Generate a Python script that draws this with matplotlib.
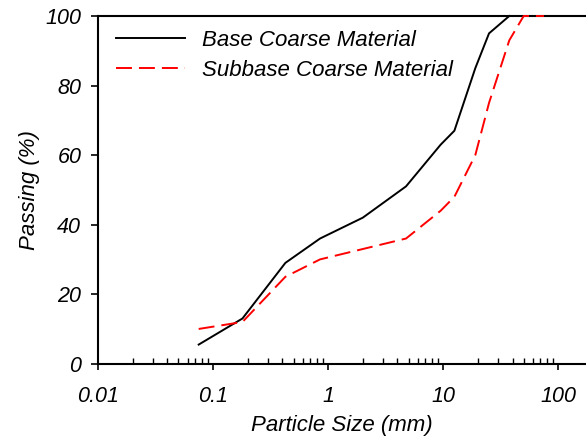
"""
Grain size distribution of base and subbase coarse material.
"""

import matplotlib
matplotlib.use("Agg")
import matplotlib.pyplot as plt
from matplotlib.ticker import LogLocator, FixedLocator, NullFormatter

plt.rcParams["font.family"] = ["Liberation Sans", "DejaVu Sans"]
plt.rcParams["font.style"] = "italic"

# sieve sizes (mm) and percent passing
base_size = [0.075, 0.18, 0.425, 0.85, 2.0, 4.75, 9.5, 12.5, 19.0, 25.0, 37.5]
base_passing = [5.5, 13, 29, 36, 42, 51, 63, 67, 85, 95, 100]

subbase_size = [0.075, 0.18, 0.425, 0.85, 4.75, 9.5, 12.5, 19.0, 25.0, 37.5, 50.0, 75.0]
subbase_passing = [10, 12, 25, 30, 36, 44, 48, 60, 75, 93, 100, 100]

x_ticks = [0.01, 0.1, 1, 10, 100]
x_ticklabels = ["0.01", "0.1", "1", "10", "100"]
y_ticks = [0, 20, 40, 60, 80, 100]


def main() -> None:
    fig = plt.figure(figsize=(5.86, 4.38), dpi=100)
    ax = fig.add_axes([0.1672, 0.1696, 1.0 - 0.1672, 0.9635 - 0.1696])

    ax.plot(base_size, base_passing, color="black", lw=1.4,
            label="Base Coarse Material", clip_on=False, zorder=3)
    ax.plot(subbase_size, subbase_passing, color="red", lw=1.4,
            dashes=(8.2, 3.6), label="Subbase Coarse Material",
            clip_on=False, zorder=3)

    ax.set_xscale("log")
    ax.set_xlim(0.01, 174)
    ax.set_ylim(0, 100)

    ax.xaxis.set_major_locator(FixedLocator(x_ticks))
    ax.set_xticklabels(x_ticklabels)
    ax.xaxis.set_minor_locator(LogLocator(base=10, subs=range(2, 10), numticks=20))
    ax.xaxis.set_minor_formatter(NullFormatter())
    ax.set_yticks(y_ticks)

    ax.tick_params(axis="x", which="major", direction="out", length=4,
                   width=1.2, pad=12, labelsize=15.5)
    ax.tick_params(axis="x", which="minor", direction="in", length=4,
                   width=1.0)
    ax.tick_params(axis="y", which="major", direction="out", length=5,
                   width=1.2, pad=7, labelsize=15.5)
    ax.tick_params(top=False, right=False, which="both")

    for side in ["left", "bottom", "top"]:
        ax.spines[side].set_linewidth(1.5)
    ax.spines["right"].set_visible(False)

    ax.set_xlabel("Particle Size (mm)", fontsize=16, labelpad=6)
    ax.set_ylabel("Passing (%)", fontsize=16, labelpad=4)

    ax.legend(loc="upper left", frameon=False, fontsize=16,
              handlelength=3.1, handletextpad=0.8, labelspacing=0.42,
              borderaxespad=0.4, bbox_to_anchor=(0.0, 1.012))

    for lbl in ax.get_xticklabels() + ax.get_yticklabels():
        lbl.set_fontstyle("italic")

    fig.savefig("out.png", dpi=100)
    plt.close(fig)


if __name__ == "__main__":
    main()
